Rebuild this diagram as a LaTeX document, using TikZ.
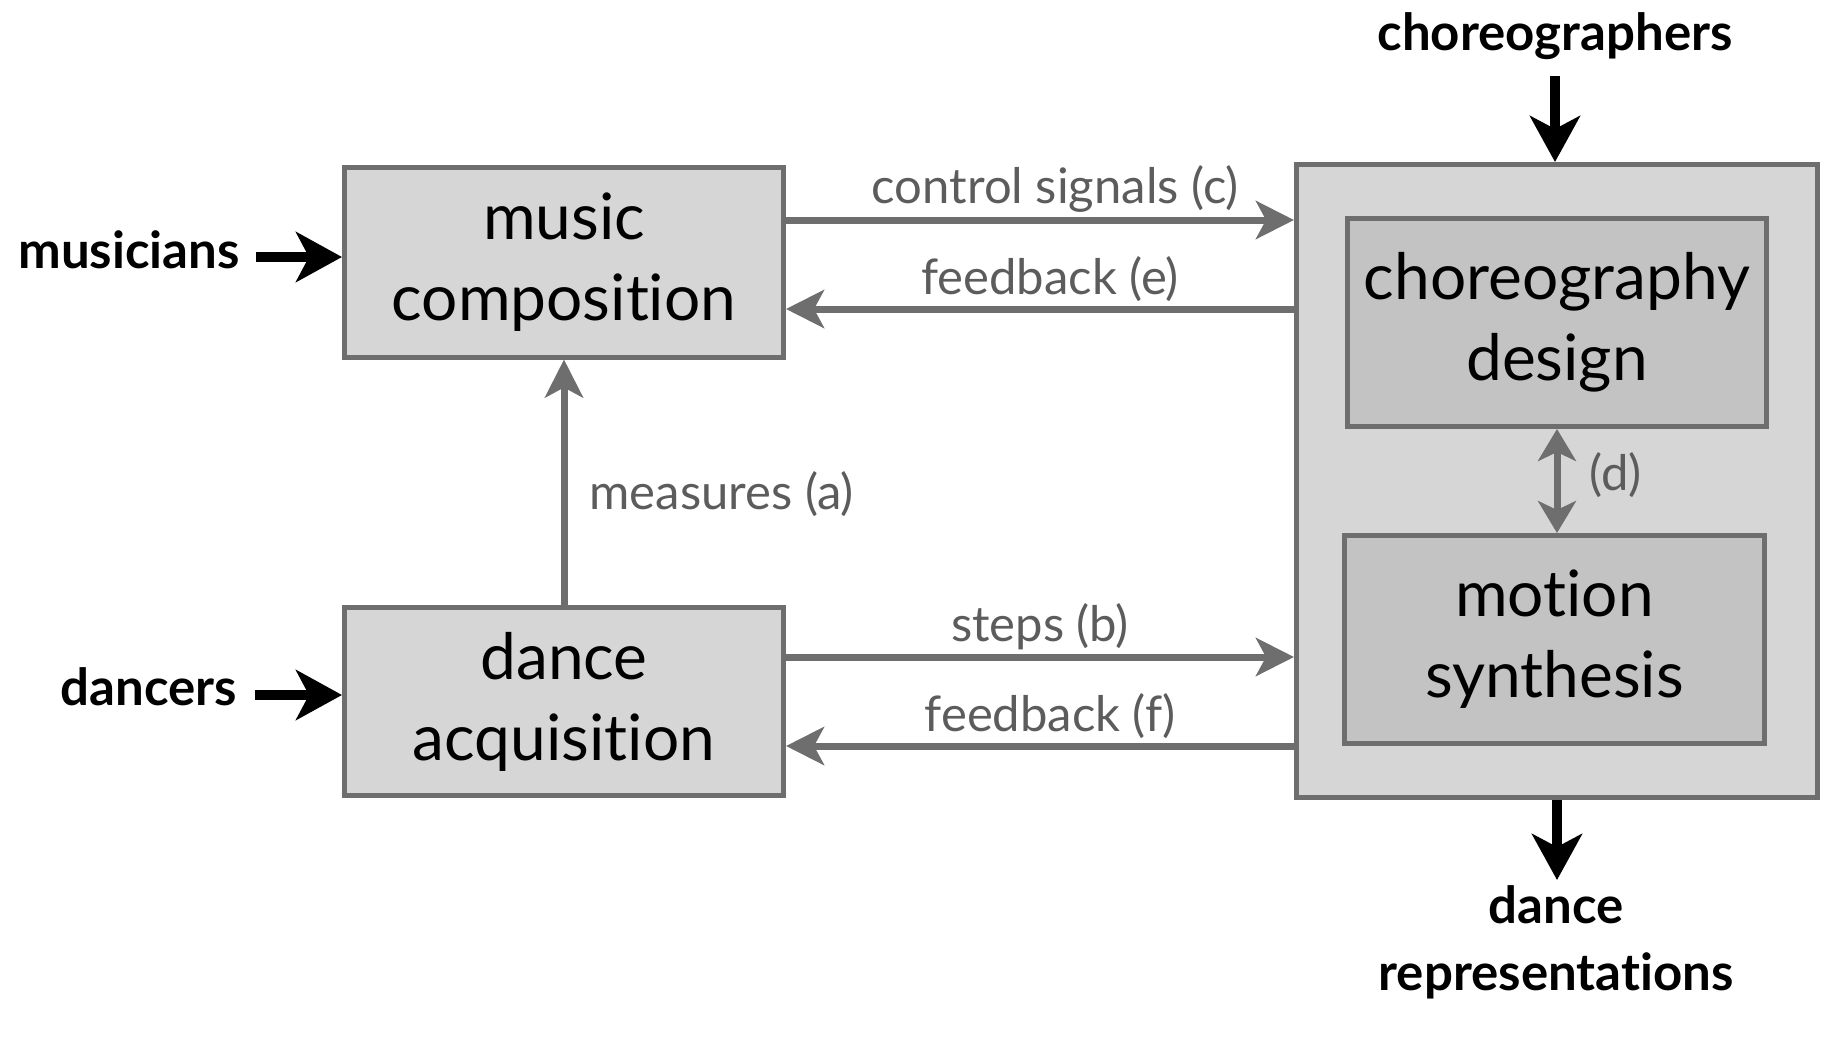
\documentclass[tikz,border=0pt]{standalone}
\usepackage{fontspec}
\setmainfont{Lato}[Ligatures=NoCommon]
\usetikzlibrary{arrows.meta}

\definecolor{boxgray}{HTML}{D6D6D6}
\definecolor{innergray}{HTML}{C3C3C3}
\definecolor{linegray}{HTML}{6E6E6E}
\definecolor{labelgray}{HTML}{5C5C5C}

\newcommand{\boxfont}{\fontsize{64}{81}\selectfont}
\newcommand{\lblfont}{\fontsize{49}{58}\selectfont}
\newcommand{\whofont}{\fontsize{51}{67}\selectfont\bfseries}

\tikzset{
  box/.style={draw=linegray, line width=5pt, fill=boxgray, align=center, font=\boxfont, inner sep=0pt},
  innerbox/.style={box, fill=innergray},
  lbl/.style={text=labelgray, font=\lblfont, inner sep=4pt},
  who/.style={font=\whofont, align=center, inner sep=2pt},
  garrow/.style={draw=linegray, line width=7pt, -{Stealth[length=38pt,width=38pt,inset=10pt]}},
  gdouble/.style={draw=linegray, line width=7pt, {Stealth[length=32pt,width=38pt,inset=9pt]}-{Stealth[length=32pt,width=38pt,inset=9pt]}},
  barrow/.style={draw=black, line width=10pt, -{Stealth[length=46pt,width=50pt,inset=13pt]}}
}

\begin{document}
\begin{tikzpicture}[x=1pt,y=-1pt]
    \useasboundingbox (0,0) rectangle (1824,1039);

    % Draw the boxes
    \node[box, minimum width=521pt, minimum height=633pt] (synth) at (1557,481) {};
    \node[innerbox, minimum width=419pt, minimum height=208pt] (design) at (1557,322.5) {choreography\\design};
    \node[innerbox, minimum width=420pt, minimum height=208pt] (motion) at (1554.5,639.5) {motion\\synthesis};
    \node[box, minimum width=439pt, minimum height=190pt] (music) at (564,262) {music\\composition};
    \node[box, minimum width=439pt, minimum height=188pt] (dance) at (564,701.5) {dance\\acquisition};

    % Outside actors
    \node[who, anchor=base east] (musicians) at (242,268) {musicians};
    \node[who, anchor=base east] (dancers) at (239,705) {dancers};
    \node[who, anchor=base] (choreo) at (1555,50) {choreographers};
    \node[who, anchor=north] (reps) at (1556,883) {dance\\representations};

    % Draw the black arrows
    \draw[barrow, shorten <=14pt] ([yshift=11pt]musicians.base east) -- ([yshift=11pt]musicians.base east -| music.west);
    \draw[barrow, shorten <=16pt] ([yshift=10pt]dancers.base east) -- ([yshift=10pt]dancers.base east -| dance.west);
    \draw[barrow, shorten <=15pt] (choreo.south) -- (choreo.south |- synth.north);
    \draw[barrow, shorten >=3pt] (synth.south) -- (synth.south |- reps.north);

    % Draw the gray arrows
    \draw[garrow] ([yshift=42pt]music.east) -- ([yshift=42pt]music.east -| synth.west)
        node[lbl, pos=.53, above] {control signals (c)};
    \draw[garrow] ([yshift=-47pt]music.east -| synth.west) -- ([yshift=-47pt]music.east)
        node[lbl, pos=.48, above] {feedback (e)};
    \draw[garrow] ([yshift=44.5pt]dance.east) -- ([yshift=44.5pt]dance.east -| synth.west)
        node[lbl, midway, above] {steps (b)};
    \draw[garrow] ([yshift=-44.5pt]dance.east -| synth.west) -- ([yshift=-44.5pt]dance.east)
        node[lbl, pos=.48, above] {feedback (f)};
    \draw[garrow] (dance) -- (music) node[lbl, pos=.45, right=18pt] {measures (a)};
    \draw[gdouble] (design) -- (design |- motion.north) node[lbl, pos=.44, right=25pt] {(d)};
\end{tikzpicture}
\end{document}
